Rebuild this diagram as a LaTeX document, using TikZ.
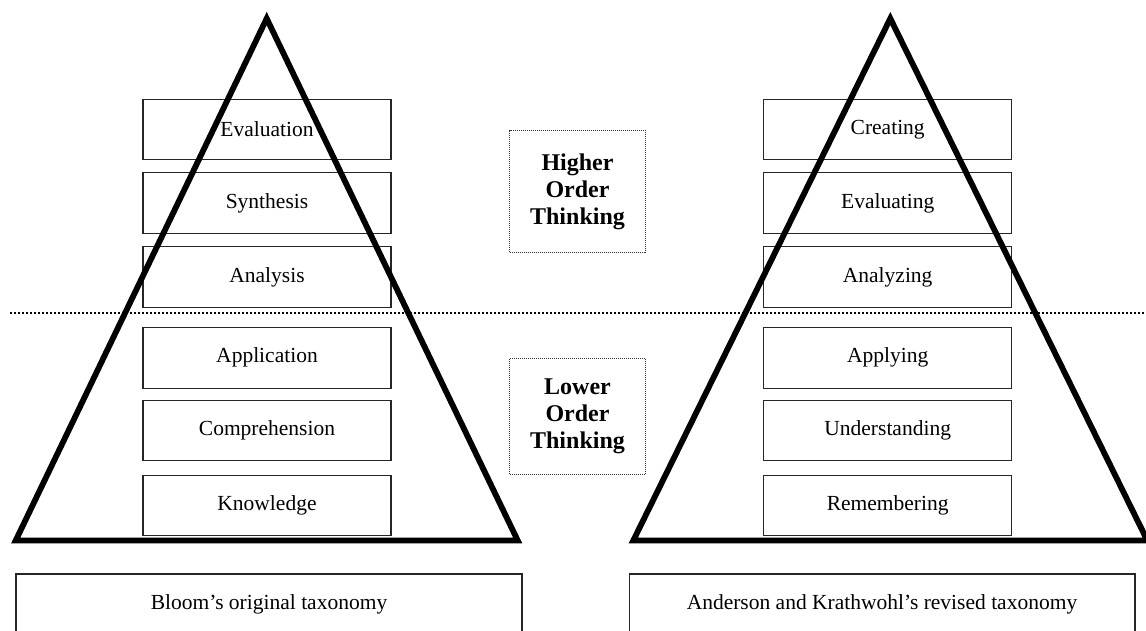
\documentclass[tikz,border=0pt]{standalone}
\usepackage{fontspec}
\setmainfont{Liberation Serif}
\begin{document}
\begin{tikzpicture}[x=1pt,y=-1pt,
  level/.style={draw=black!85, line width=1.1pt, minimum width=248pt, minimum height=60.5pt, inner sep=0pt, font=\fontsize{21.5}{25}\selectfont},
  order/.style={draw=black!80, line width=1pt, dash pattern=on 1pt off 1pt, minimum width=136pt, inner sep=0pt, align=center, font=\bfseries\fontsize{24}{27}\selectfont},
  pyr/.style={line width=5.8pt, line join=miter, miter limit=10},
  sep/.style={line width=2pt, dash pattern=on 2pt off 2pt},
  capbox/.style={draw=black!85, line width=1.1pt},
  captext/.style={font=\fontsize{21.5}{25}\selectfont}]
\useasboundingbox (0,0) rectangle (1146,630);
% left column boxes
\node[level] (eval) at (267,129.3) {Evaluation};
\node[level] (synt) at (267,202.9) {Synthesis};
\node[level] (anal) at (267,277) {Analysis};
\node[level] (appl) at (267,357.8) {Application};
\node[level] (comp) at (267,430.5) {Comprehension};
\node[level] (know) at (267,505.5) {Knowledge};
% right column boxes
\node[level] (crea) at (887.7,129.3) {Creating};
\node[level] (evlg) at (887.7,202.9) {Evaluating};
\node[level] (anlz) at (887.7,277) {Analyzing};
\node[level] (aply) at (887.7,357.8) {Applying};
\node[level] (undr) at (887.7,430.5) {Understanding};
\node[level] (remb) at (887.7,505.5) {Remembering};
% order boxes
\node[order, minimum height=122.7pt] (high) at (577.5,191.4) {Higher\\Order\\Thinking};
\node[order, minimum height=115.7pt] (low) at (577.5,416.2) {Lower\\Order\\Thinking};
% separator
\coordinate (sepL) at (10,312.5);
\coordinate (sepR) at (1146,312.5);
\draw[sep] (sepL) -- (sepR);
% pyramids
\coordinate (lA) at (266.7,18.5);
\coordinate (lB) at (15.7,540.5);
\coordinate (lC) at (517.7,540.5);
\draw[pyr] (lA) -- (lB) -- (lC) -- cycle;
\coordinate (rA) at (890.3,18.5);
\coordinate (rB) at (633.3,540.5);
\coordinate (rC) at (1147.3,540.5);
\draw[pyr] (rA) -- (rB) -- (rC) -- cycle;
% captions
\draw[capbox] (16,640) -- (16,574) -- (522,574) -- (522,640);
\draw[capbox] (629.3,640) -- (629.3,574) -- (1135,574) -- (1135,640);
\node[captext] (bloom) at (269,604) {Bloom’s original taxonomy};
\node[captext] (ak) at (882,604) {Anderson and Krathwohl’s revised taxonomy};
\end{tikzpicture}
\end{document}
